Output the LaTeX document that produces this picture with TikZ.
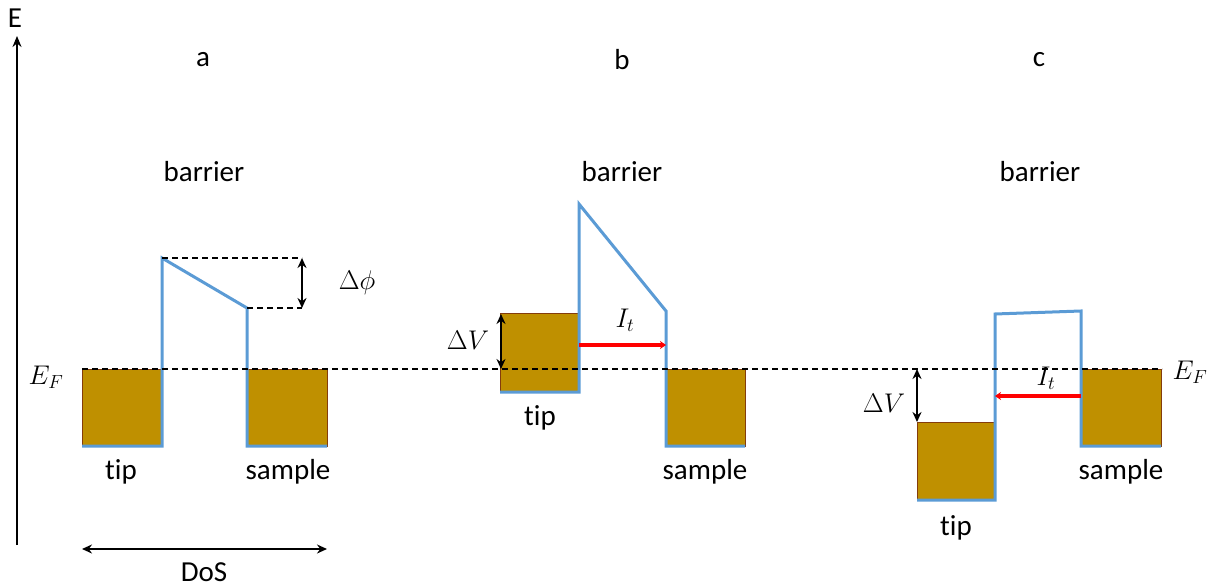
\RequirePackage{fix-cm}
\documentclass[tikz,border=0pt]{standalone}
\usepackage{fontspec}
\setmainfont[Ligatures=NoCommon]{Carlito}
\usetikzlibrary{arrows.meta,positioning}
\definecolor{oro}{HTML}{BF9000}
\definecolor{borde}{HTML}{843C0C}
\definecolor{perfil}{HTML}{5B9BD5}
\definecolor{rojo}{HTML}{FF0000}
\tikzset{
  band/.style={fill=oro,draw=borde,line width=1pt},
  profile/.style={draw=perfil,line width=3pt,line join=miter},
  fermi/.style={draw=black,line width=1.4pt,dash pattern=on 6pt off 4pt},
  gap/.style={{Stealth[length=10pt,width=9pt]}-{Stealth[length=10pt,width=9pt]},line width=2.2pt},
  current/.style={-{Stealth[length=6pt,width=8pt]},draw=rojo,line width=4pt},
  lbl/.style={font=\fontsize{29}{33}\selectfont,inner sep=0pt},
  mlbl/.style={font=\fontsize{27}{31}\selectfont,inner sep=0pt},
}

\begin{document}
\begin{tikzpicture}[x=1pt,y=-1pt]
\useasboundingbox (0,0) rectangle (1211,588);
% energy axis
\coordinate (e0) at (17,545);
\coordinate (e1) at (17,36);
\draw[-{Stealth[length=11pt,width=9pt]},line width=2.2pt] (e0) -- (e1);
\node[lbl] (elbl) at (15,18) {E};
% panel a
\coordinate (a1) at (82,446);
\coordinate (a2) at (162,446);
\coordinate (a3) at (162,258);
\coordinate (a4) at (247,308);
\coordinate (a5) at (247,446);
\coordinate (a6) at (327,446);
\coordinate (atop) at (302,258);
\coordinate (abot) at (302,308);
\draw[band] (82,369) rectangle (162,446);
\draw[band] (247,369) rectangle (327,446);
\draw[profile] (a1) -- (a2) -- (a3) -- (a4) -- (a5) -- (a6);
\draw[fermi] (a3) -- (atop);
\draw[fermi] (a4) -- (abot);
\draw[gap] (atop) -- (abot);
\node[lbl] (alet) at (203,60) {a};
\node[lbl] (abar) at (204,172) {barrier};
\node[mlbl] (aphi) at (357,283) {$\Delta\phi$};
\node[lbl] (atip) at (121,472) {tip};
\node[lbl] (asam) at (288,472) {sample};
% panel b
\coordinate (b1) at (500,392);
\coordinate (b2) at (579,392);
\coordinate (b3) at (579,204);
\coordinate (b4) at (666,311);
\coordinate (b5) at (666,446);
\coordinate (b6) at (745,446);
\coordinate (bi0) at (579,345);
\coordinate (bi1) at (666,345);
\coordinate (bv0) at (501,314);
\coordinate (bv1) at (501,369);
\draw[band] (500,314) rectangle (579,392);
\draw[band] (666,369) rectangle (745,446);
\draw[profile] (b1) -- (b2) -- (b3) -- (b4) -- (b5) -- (b6);
\draw[current] (bi0) -- (bi1);
\draw[gap] (bv0) -- (bv1);
\node[lbl] (blet) at (622,60) {b};
\node[lbl] (bbar) at (622,172) {barrier};
\node[mlbl] (bcur) at (625,320) {$I_t$};
\node[mlbl] (bdv) at (468,340) {$\Delta V$};
\node[lbl] (btip) at (540,418) {tip};
\node[lbl] (bsam) at (705,472) {sample};
% panel c
\coordinate (c1) at (917,500);
\coordinate (c2) at (995,500);
\coordinate (c3) at (995,314);
\coordinate (c4) at (1081,311);
\coordinate (c5) at (1081,446);
\coordinate (c6) at (1161,446);
\coordinate (ci0) at (1081,396);
\coordinate (ci1) at (995,396);
\coordinate (cv0) at (917,369);
\coordinate (cv1) at (917,422);
\draw[band] (917,422) rectangle (995,500);
\draw[band] (1081,369) rectangle (1161,446);
\draw[profile] (c1) -- (c2) -- (c3) -- (c4) -- (c5) -- (c6);
\draw[current] (ci0) -- (ci1);
\node[lbl] (clet) at (1039,60) {c};
\node[lbl] (cbar) at (1040,172) {barrier};
\node[mlbl] (cdv) at (884,403) {$\Delta V$};
\node[lbl] (ctip) at (956,528) {tip};
\node[lbl] (csam) at (1121,472) {sample};
% Fermi level
\coordinate (f0) at (82,369);
\coordinate (f1) at (1162,369);
\draw[fermi] (f0) -- (f1);
\draw[gap] (cv0) -- (cv1);
\node[mlbl] (ccur) at (1046,378) {$I_t$};
\node[mlbl] (efl) at (46,377) {$E_F$};
\node[mlbl] (efr) at (1190,372) {$E_F$};
% DoS axis
\coordinate (d0) at (82,549);
\coordinate (d1) at (327,549);
\draw[gap] (d0) -- (d1);
\node[lbl] (dos) at (204,572) {DoS};
\end{tikzpicture}
\end{document}
